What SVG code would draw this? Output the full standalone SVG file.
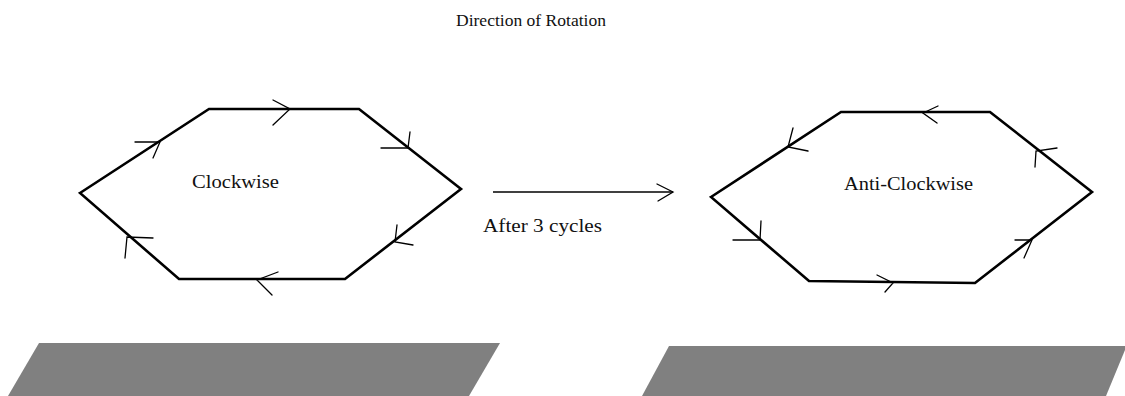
<svg xmlns="http://www.w3.org/2000/svg" width="1125" height="396" viewBox="0 0 1125 396">
<style>
.hex{fill:none;stroke:#000;stroke-width:2.6;stroke-linejoin:miter}
.barb{fill:none;stroke:#000;stroke-width:1.3;stroke-linecap:round}
.lbl{font-family:"Liberation Serif","Times New Roman",serif;font-size:19px;fill:#111}
.base{fill:#808080}
</style>
<rect width="1125" height="396" fill="#fff"/>
<text class="lbl" x="456" y="26" style="font-size:17.5px" textLength="150" lengthAdjust="spacingAndGlyphs">Direction of Rotation</text>
<g id="clockwise">
<polygon class="hex" points="80,193 209,109 359,109 461,189 345,279 179,279"/>
<path class="barb" d="M273,100 L290,109 L273,125 M135,142 L160,142 L153,158 M381,148 L408,148 L410,132 M397,225 L395,242 L413,245 M278,272 L257,280 L272,295 M153,238 L127,237 L125,258"/>
<text class="lbl" x="192" y="188" textLength="87" lengthAdjust="spacingAndGlyphs">Clockwise</text>
</g>
<g id="anticlockwise">
<polygon class="hex" points="711,197 841,112 990,112 1092,192 975,283 809,281"/>
<path class="barb" d="M938,106 L923,113 L937,123 M793,128 L788,147 L808,151 M1057,148 L1036,151 L1035,167 M733,240 L760,240 L761,221 M877,275 L893,283 L885,292 M1015,240 L1032,240 L1024,258"/>
<text class="lbl" x="844" y="190" textLength="129" lengthAdjust="spacingAndGlyphs">Anti-Clockwise</text>
</g>
<g id="connectors">
<line x1="493" y1="192" x2="673" y2="192" stroke="#000" stroke-width="1.5"/>
<path class="barb" d="M657,184 L673,192 L658,201"/>
<text class="lbl" x="483" y="232" textLength="119" lengthAdjust="spacingAndGlyphs">After 3 cycles</text>
</g>
<g id="base-left"><polygon class="base" points="39,343 500,343 469,396 8,396"/></g>
<g id="base-right"><polygon class="base" points="669,346 1125,346 1125,350 1106,396 642,396"/></g>
</svg>
